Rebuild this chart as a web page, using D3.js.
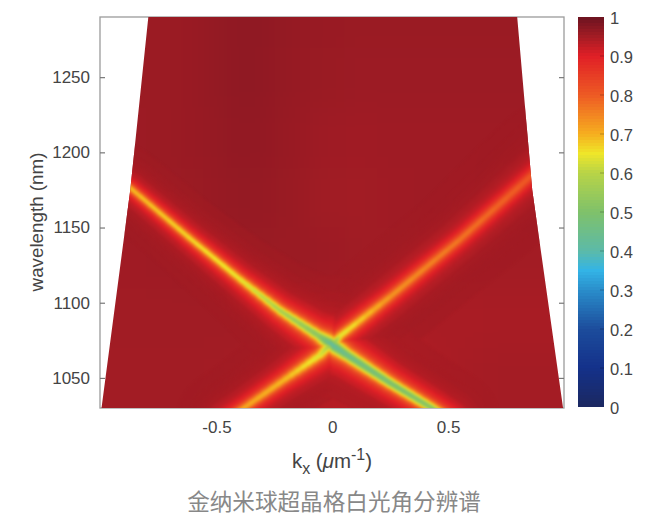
<!DOCTYPE html>
<html><head><meta charset="utf-8">
<script src="https://cdnjs.cloudflare.com/ajax/libs/d3/7.8.5/d3.min.js"></script>
<style>html,body{margin:0;background:#fff;overflow:hidden}svg{display:block}
text{font-family:"Liberation Sans",Arial,sans-serif;fill:#444}</style></head><body>
<script>
// Colour map stops
const cbValues = [0,0.1,0.2,0.3,0.35,0.4,0.5,0.6,0.65,0.7,0.8,0.9,0.95,1];
const cbColors = ["#1b2860","#14318a","#1c4c9c","#2a8ecb","#33b4e6","#5cbaa8","#7fc16a","#b8d447","#efe629","#f6ae1f","#ee5a24","#e01f26","#a31c24","#6b1320"];
const cbTicks = [0,0.1,0.2,0.3,0.4,0.5,0.6,0.7,0.8,0.9,1];
const xTicks = [-0.5,0,0.5];
const yTicks = [1050,1100,1150,1200,1250];
// Measured angular limit of the data
const edgeWavelength = [1290,1175,1030];
const edgeKLeft = [-0.794,-0.872,-0.996];
const edgeKRight = [0.798,0.863,0.996];
// Background reflectance: rows (long to short wavelength), columns (k)
const bgKEdges = [-1.3,-0.8,-0.65,-0.55,-0.45,-0.35,-0.25,-0.1,0.05,0.2,0.35,0.5,0.65,0.8,1.3];
const bgWEdges = [1320,1270,1230,1190,1150,1110,1070,1000];
const bgRows = [
 [.957,.957,.959,.963,.968,.968,.962,.959,.958,.958,.958,.958,.958,.958],
 [.957,.957,.959,.963,.968,.967,.961,.958,.956,.956,.956,.956,.956,.956],
 [.956,.957,.959,.962,.966,.964,.959,.954,.953,.954,.954,.954,.954,.954],
 [.955,.956,.957,.960,.963,.962,.958,.952,.951,.953,.954,.953,.953,.953],
 [.953,.954,.955,.956,.958,.958,.957,.955,.952,.952,.951,.950,.950,.950],
 [.952,.952,.952,.952,.952,.952,.950,.945,.942,.943,.945,.945,.946,.946],
 [.951,.951,.951,.950,.949,.944,.932,.920,.915,.930,.942,.947,.949,.949]
];
// Band ridges: k, wavelength, dip value, half-width (nm)
const shadowK = [-0.854,-0.609,-0.468,-0.339];
const shadowW = [1161.7,1129.8,1108.5,1093.2];
const shadowV = [0.982,0.988,0.992,0.958];
const shadowH = [1.8,2.2,3.0,3.0];
const bandAK = [-0.91,-0.867,-0.622,-0.395,-0.223,-0.052,0,0.056,0.249,0.429,0.506];
const bandAW = [1180.3,1175.7,1143.8,1115.2,1094.5,1077.3,1071.9,1066,1046.7,1030,1022];
const bandAV = [0.70,0.68,0.65,0.63,0.56,0.5,0.40,0.43,0.47,0.5,0.5];
const bandAH = [2.8,2.8,2.9,3.2,3.6,4.2,5.0,4.3,3.8,3.6,3.6];
const bandBK = [0.01,0.034,0.249,0.549,0.863,0.936];
const bandBW = [1073.5,1077.9,1103.9,1141.8,1185,1195];
const bandBV = [0.5,0.62,0.72,0.76,0.8,0.8];
const bandBH = [3.4,3.6,3.8,3.8,4.2,4.2];
const bandCK = [-0.459,-0.382,-0.202,-0.052,-0.021,0];
const bandCW = [1022,1030,1049.3,1065.3,1070.6,1071.9];
const bandCV = [0.7,0.7,0.68,0.62,0.58,0.5];
const bandCH = [3.6,3.6,3.8,4.2,4.2,4.2];

const W=646,H=517, L=100,R=564,T=17,B=408;
const x=d3.scaleLinear().domain([-1,1]).range([L+0.6,R+0.0]);
const y=d3.scaleLinear().domain([1030,1290]).range([B,T]);
const color=d3.scaleLinear().domain(cbValues).range(cbColors).interpolate(d3.interpolateRgb).clamp(true);
const svg=d3.select("body").append("svg").attr("width",W).attr("height",H);
const defs=svg.append("defs");
function blur(id,sd){defs.append("filter").attr("id",id).attr("filterUnits","userSpaceOnUse").attr("x",-100).attr("y",-100).attr("width",W+200).attr("height",H+200).attr("color-interpolation-filters","sRGB").append("feGaussianBlur").attr("stdDeviation",sd);}
blur("soft",16);blur("soft2",1.2);blur("soft3",2.2);
const leftPts=edgeWavelength.map((w,i)=>[x(edgeKLeft[i]),y(w)]);
const rightPts=edgeWavelength.map((w,i)=>[x(edgeKRight[i]),y(w)]).reverse();
defs.append("clipPath").attr("id","trap").append("path").attr("d",d3.line()(leftPts.concat(rightPts))+"Z");

// Axes first: the image sits on top of them
const ax=svg.append("g");
ax.append("rect").attr("x",L).attr("y",T).attr("width",R-L).attr("height",B-T).attr("fill","#fff").attr("stroke","#9b9b9b").attr("stroke-width",1.3);
const gl=ax.append("g").attr("transform",`translate(${L},0)`).call(d3.axisLeft(y).tickValues(yTicks).tickSize(-5).tickPadding(10).tickFormat(d3.format("d")));
const gr=ax.append("g").attr("transform",`translate(${R},0)`).call(d3.axisRight(y).tickValues(yTicks).tickSize(-5).tickFormat(""));
const gb=ax.append("g").attr("transform",`translate(0,${B})`).call(d3.axisBottom(x).tickValues(xTicks).tickSize(0).tickPadding(13).tickFormat(d=>d===0?"0":d));
[gl,gr,gb].forEach(g=>{g.select(".domain").remove();g.selectAll("line").attr("stroke","#777").attr("stroke-width",1.2);g.selectAll("text").style("font-size","17px").attr("fill","#444")});

// Heat map
const img=svg.append("g").attr("clip-path","url(#trap)");
const bg=img.append("g").attr("filter","url(#soft)");
bgRows.forEach((row,r)=>row.forEach((v,c)=>{
  bg.append("rect").attr("x",x(bgKEdges[c])).attr("width",x(bgKEdges[c+1])-x(bgKEdges[c])+1)
    .attr("y",y(bgWEdges[r])).attr("height",y(bgWEdges[r+1])-y(bgWEdges[r])+1).attr("fill",color(v));
}));
const fracs=[.012,.02,.03,.04,.055,.07,.09,.12,.15,.19,.24,.3,.38,.46,.55,.64,.73,.82,.9,.96];
const pxPerNm=(B-T)/260, base=.955, sub=6;
function drawRidge(group,rd,f,b){
  for(let i=0;i<rd.k.length-1;i++){
    for(let s=0;s<sub;s++){
      const t0=s/sub,t1=(s+1)/sub,tm=(t0+t1)/2;
      const val=rd.v[i]+(rd.v[i+1]-rd.v[i])*tm, hw=rd.h[i]+(rd.h[i+1]-rd.h[i])*tm;
      const d=hw*pxPerNm*Math.sqrt(1/f-1);
      group.append("line")
        .attr("x1",x(rd.k[i]+(rd.k[i+1]-rd.k[i])*t0)).attr("y1",y(rd.w[i]+(rd.w[i+1]-rd.w[i])*t0))
        .attr("x2",x(rd.k[i]+(rd.k[i+1]-rd.k[i])*t1)).attr("y2",y(rd.w[i]+(rd.w[i+1]-rd.w[i])*t1))
        .attr("stroke",color(b+(val-b)*f)).attr("stroke-width",2*d).attr("stroke-linecap","round");
    }
  }
}
const shadowG=img.append("g").attr("filter","url(#soft3)");
[.3,.5,.7,.9].forEach(f=>drawRidge(shadowG,{k:shadowK,w:shadowW,v:shadowV,h:shadowH},f,.955));
const ridges=[
 {k:bandBK,w:bandBW,v:bandBV,h:bandBH},
 {k:bandCK,w:bandCW,v:bandCV,h:bandCH},
 {k:bandAK,w:bandAW,v:bandAV,h:bandAH}];
const bands=img.append("g").attr("filter","url(#soft2)");
// the faintest halo levels are translucent so they melt into the background
fracs.forEach(f=>{
  const layer=bands.append("g").attr("opacity",f<.07?0.55:1);
  ridges.forEach(rd=>drawRidge(layer,rd,f,base));
});

// Colour bar
const cbX=578,cbW=26,cbY=d3.scaleLinear().domain([0,1]).range([407,17]);
const cbSteps=d3.range(130).map(i=>i/130);
const cb=svg.append("g");
cb.selectAll("rect").data(cbSteps).join("rect").attr("x",cbX).attr("width",cbW)
  .attr("y",d=>cbY(d)-3).attr("height",3).attr("shape-rendering","crispEdges").attr("fill",d=>color(d+1/260));
cb.selectAll("line").data(cbTicks.slice(1,-1)).join("line").attr("x1",cbX+cbW-4).attr("x2",cbX+cbW)
  .attr("y1",d=>cbY(d)).attr("y2",d=>cbY(d)).attr("stroke",d=>d3.color(color(d)).darker(0.8)).attr("stroke-width",1);
cb.selectAll("text").data(cbTicks).join("text").attr("x",cbX+cbW+6).attr("y",d=>cbY(d)+1).attr("dy","0.35em")
  .style("font-size","16.5px").text(d=>d);

// Labels
svg.append("text").attr("transform","translate(43,222) rotate(-90)").attr("text-anchor","middle").style("font-size","18.8px").text("wavelength (nm)");
const xl=svg.append("text").attr("x",332).attr("y",468).attr("text-anchor","middle").style("font-size","20.5px");
xl.append("tspan").text("k");
xl.append("tspan").attr("dy",6).style("font-size","16px").text("x");
xl.append("tspan").attr("dy",-6).text(" (");
xl.append("tspan").style("font-style","italic").text("\u03bc");
xl.append("tspan").text("m");
xl.append("tspan").attr("dy",-8).style("font-size","16px").text("-1");
xl.append("tspan").attr("dy",8).text(")");
svg.append("text").attr("x",334).attr("y",510).attr("text-anchor","middle")
  .style("font-family",'"Noto Sans CJK SC"').style("font-size","22.6px").style("fill","#888").text("金纳米球超晶格白光角分辨谱");
</script></body></html>
